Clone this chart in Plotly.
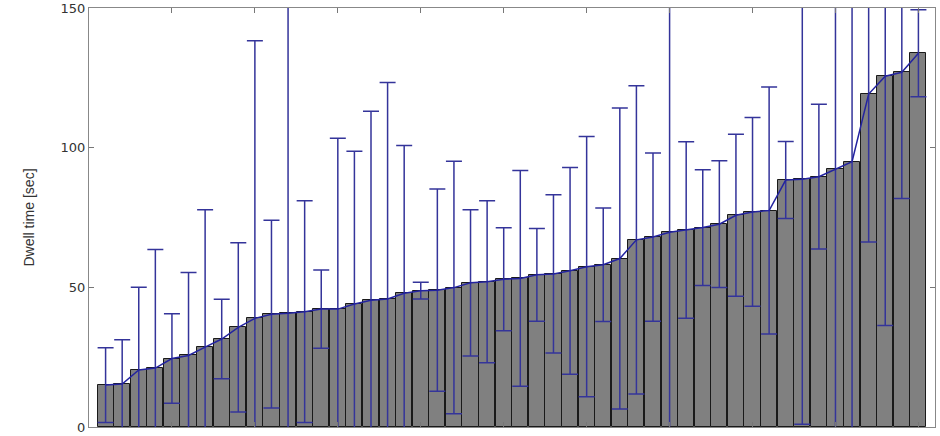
import plotly.graph_objects as go

trial = list(range(1, 51))
dwell_mean = [15.0, 15.4, 20.4, 21.1, 24.5, 25.6, 28.6, 31.5, 35.7, 38.9,
              40.4, 40.7, 41.3, 42.2, 42.2, 44.0, 45.4, 45.8, 47.9, 48.8,
              49.0, 49.9, 51.6, 52.0, 52.9, 53.2, 54.5, 54.8, 55.9, 57.4,
              58.1, 60.3, 67.0, 68.0, 69.7, 70.5, 71.4, 72.6, 75.8, 77.0,
              77.5, 88.4, 88.7, 89.6, 92.3, 95.0, 119.2, 125.6, 127.0, 133.8]
dwell_err = [13.4, 15.8, 29.6, 42.4, 16.0, 29.7, 49.2, 14.2, 30.3, 99.4,
             33.6, 115.0, 39.7, 14.0, 61.2, 54.7, 67.6, 77.5, 52.9, 3.0,
             36.2, 45.2, 26.2, 29.0, 18.4, 38.6, 16.6, 28.3, 37.0, 46.6,
             20.3, 53.9, 55.2, 30.1, 90.0, 31.6, 20.7, 22.7, 29.0, 33.8,
             44.2, 13.8, 87.7, 25.9, 100.0, 105.0, 53.0, 89.3, 45.2, 15.6]
y_ticks = [0, 50, 100, 150]

fig = go.Figure()
fig.add_trace(go.Bar(
    x=trial, y=dwell_mean,
    marker=dict(color="#808080", line=dict(color="#1a1a1a", width=1)),
    width=0.97, showlegend=False, hoverinfo="skip",
))
fig.add_trace(go.Scatter(
    x=trial, y=dwell_mean, mode="lines",
    line=dict(color="#2323a0", width=1.5),
    error_y=dict(type="data", array=dwell_err, visible=True,
                 color="#34349a", thickness=1.5, width=8),
    showlegend=False,
))

fig.update_layout(
    width=940, height=436,
    margin=dict(l=89, r=5, t=8, b=9),
    paper_bgcolor="white", plot_bgcolor="white",
    font=dict(family="Liberation Sans, Arial, sans-serif", size=12, color="#333333"),
    bargap=0,
)
fig.update_xaxes(
    range=[0, 51], showticklabels=False, ticks="inside", ticklen=5,
    tickcolor="#777777", tickvals=list(range(5, 51, 5)),
    showline=True, linecolor="#888888", linewidth=1, mirror="ticks",
    showgrid=False, zeroline=False, automargin=False,
)
fig.update_yaxes(
    range=[0, 150], tickvals=y_ticks, ticktext=[str(v) for v in y_ticks],
    ticks="inside", ticklen=5, tickcolor="#777777", ticklabeloverflow="allow",
    showline=True, linecolor="#888888", linewidth=1, mirror="ticks",
    showgrid=False, zeroline=False, automargin=False,
    title=dict(text="Dwell time [sec]",
               font=dict(family="Liberation Sans, Arial, sans-serif", size=14, color="#333333"),
               standoff=22),
    tickfont=dict(family="DejaVu Sans, sans-serif", size=13, color="#333333"),
)

fig.write_html("out.html", config={"displayModeBar": False},
               post_script="document.body.style.margin='0px';")
